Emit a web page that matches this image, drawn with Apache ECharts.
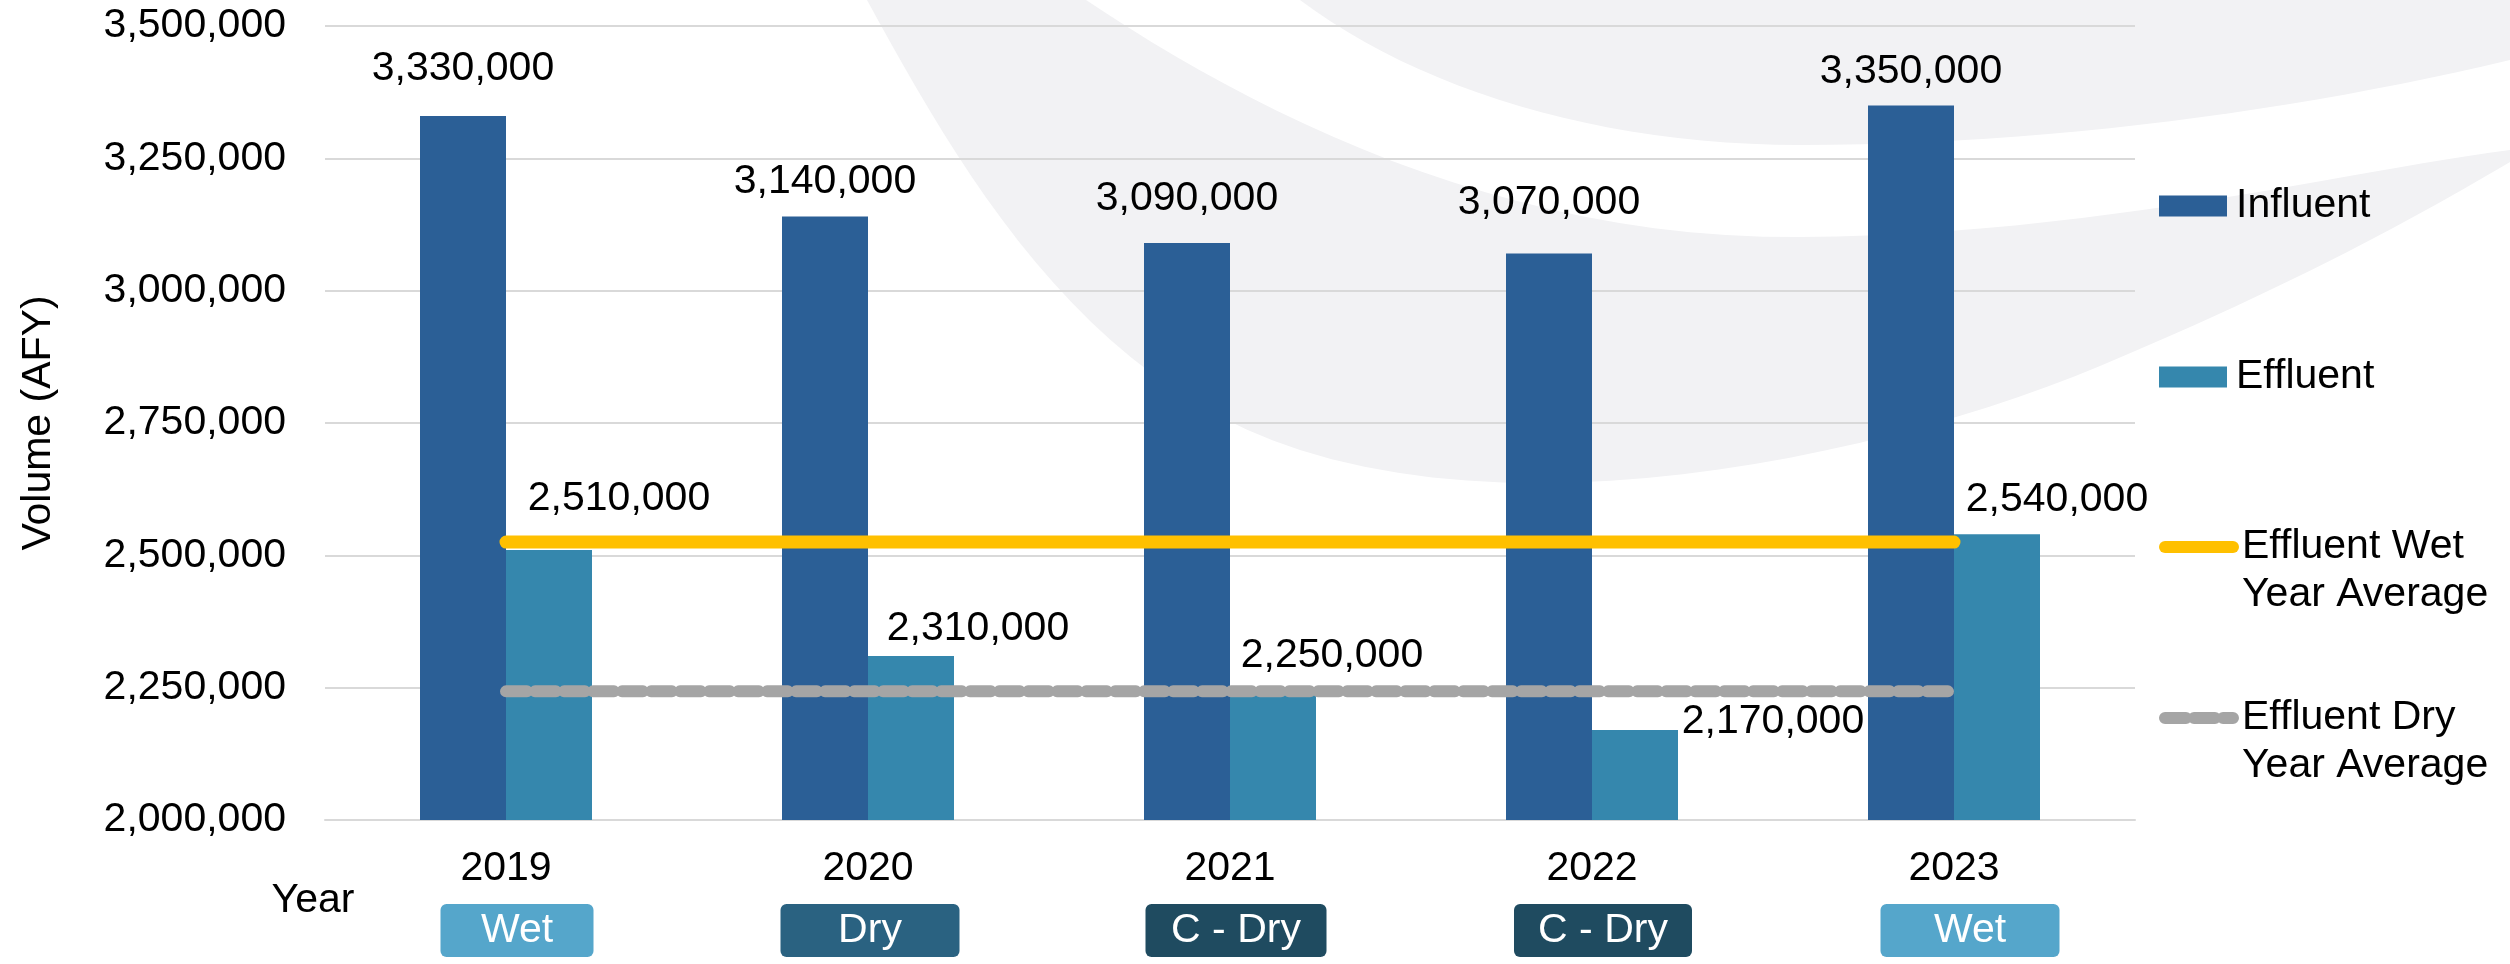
<!DOCTYPE html>
<html>
<head>
<meta charset="utf-8">
<script src="https://cdn.jsdelivr.net/npm/echarts@6/dist/echarts.min.js"></script>
<style>
  html, body { margin: 0; padding: 0; background: #ffffff; }
  #chart { width: 2510px; height: 964px; }
</style>
</head>
<body>
<div id="chart"></div>
<script>
// ---- data ----
const years = ['2019', '2020', '2021', '2022', '2023'];
const yearTypes = ['Wet', 'Dry', 'C - Dry', 'C - Dry', 'Wet'];
const influent = [3330000, 3140000, 3090000, 3070000, 3350000];
const effluent = [2510000, 2310000, 2250000, 2170000, 2540000];
const wetYearAverage = [2525000, 2525000, 2525000, 2525000, 2525000];
const dryYearAverage = [2243000, 2243000, 2243000, 2243000, 2243000];
const yTicks = { min: 2000000, max: 3500000, interval: 250000 };

// ---- styling (not data) ----
const FONT = "'Liberation Sans', Arial, Helvetica, sans-serif";
const typeColors = { 'Wet': '#55A6CB', 'Dry': '#2A6281', 'C - Dry': '#1F4B60' };
const badgeWidths = [153, 179, 181, 178, 179];
const badgeShift = [11, 2, 6, 11, 16];
const inflLabelOffset = [[0, -27], [0, -14], [0, -24], [0, -30], [0, -13]];
const effLabelOffset = [[70, -31], [67, -7], [59, -11], [138, 12], [60, -14]];

const fmt = v => Number(v).toLocaleString('en-US');

// decorative background swoosh outlines (cubic bezier chains, sampled to polygons)
function bezierPoly(start, segs) {
  const pts = [start];
  let p0 = start;
  segs.forEach(s => {
    const [c1, c2, p3] = s;
    for (let k = 1; k <= 24; k++) {
      const t = k / 24, u = 1 - t;
      pts.push([
        u*u*u*p0[0] + 3*u*u*t*c1[0] + 3*u*t*t*c2[0] + t*t*t*p3[0],
        u*u*u*p0[1] + 3*u*u*t*c1[1] + 3*u*t*t*c2[1] + t*t*t*p3[1]
      ]);
    }
    p0 = p3;
  });
  return pts;
}
const swooshA = bezierPoly([867, 0], [
  [[960, 170], [1080, 380], [1300, 450]],
  [[1550, 530], [1900, 450], [2100, 366]],
  [[2300, 282], [2420, 215], [2510, 162]],
  [[2510, 158], [2510, 154], [2510, 150]],
  [[2350, 170], [2100, 235], [1800, 237]],
  [[1500, 240], [1250, 110], [1086, 0]]
]);
const swooshB = bezierPoly([1300, 0], [
  [[1420, 90], [1600, 145], [1800, 145]],
  [[2050, 145], [2300, 110], [2510, 60]],
  [[2510, 40], [2510, 20], [2510, 0]]
]);

const rich = {};
yearTypes.forEach((t, i) => {
  rich['sp' + i] = { width: badgeShift[i] * 2, height: 1, fontSize: 1 };
  rich['b' + i] = {
    width: badgeWidths[i], height: 53, lineHeight: 53, align: 'center',
    backgroundColor: typeColors[t], borderRadius: 6,
    color: '#ffffff', fontSize: 41, fontFamily: FONT
  };
});

const chart = echarts.init(document.getElementById('chart'), null, { renderer: 'canvas' });

const legendBase = {
  orient: 'vertical', left: 2159, padding: 0, itemWidth: 68, itemHeight: 21,
  textStyle: { fontSize: 41, color: '#000', fontFamily: FONT, lineHeight: 48, padding: [0, 0, 0, 4] },
  selectedMode: false
};

const option = {
  backgroundColor: '#ffffff',
  animation: false,
  textStyle: { fontFamily: FONT },
  graphic: [
    { type: 'polygon', z: -10, silent: true, shape: { points: swooshA }, style: { fill: '#F2F2F4' } },
    { type: 'polygon', z: -10, silent: true, shape: { points: swooshB }, style: { fill: '#F2F2F4' } },
    { type: 'text', z: 5, silent: true,
      style: { text: 'Year', x: 313, y: 901, align: 'center', verticalAlign: 'middle',
               fontSize: 41, fontFamily: FONT, fill: '#000' } }
  ],
  grid: { left: 325, right: 375, top: 26, bottom: 144, containLabel: false },
  legend: [
    Object.assign({}, legendBase, { top: 182, data: [{ name: 'Influent', icon: 'rect' }] }),
    Object.assign({}, legendBase, { top: 353, data: [{ name: 'Effluent', icon: 'rect' }] }),
    Object.assign({}, legendBase, { top: 475, data: ['Effluent Wet Year Average'],
      lineStyle: { width: 12, cap: 'round' },
      itemStyle: { opacity: 0 },
      formatter: () => '\nEffluent Wet\nYear Average' }),
    Object.assign({}, legendBase, { top: 646, data: ['Effluent Dry Year Average'],
      lineStyle: { width: 12, cap: 'round', type: [21, 8] },
      itemStyle: { opacity: 0 },
      formatter: () => '\nEffluent Dry\nYear Average' })
  ],
  xAxis: [
    {
      type: 'category', data: years, position: 'bottom',
      axisLine: { show: true, lineStyle: { color: '#D9D9D9', width: 2 } },
      axisTick: { show: false },
      axisLabel: { fontSize: 41, color: '#000', margin: 28, fontFamily: FONT, lineHeight: 41 }
    },
    {
      type: 'category', data: years, position: 'bottom', offset: 0,
      axisLine: { show: false }, axisTick: { show: false },
      axisLabel: {
        margin: 84, rich: rich,
        formatter: (v, i) => '{sp' + i + '| }{b' + i + '|' + yearTypes[i] + '}'
      }
    }
  ],
  yAxis: {
    type: 'value', min: yTicks.min, max: yTicks.max, interval: yTicks.interval,
    name: 'Volume (AFY)', nameLocation: 'middle', nameRotate: 90, nameGap: 266,
    nameTextStyle: { fontSize: 41, color: '#000', fontFamily: FONT, lineHeight: 41 },
    axisLine: { show: false }, axisTick: { show: false },
    axisLabel: { fontSize: 41, color: '#000', margin: 39, fontFamily: FONT, formatter: fmt },
    splitLine: { lineStyle: { color: '#D9D9D9', width: 2 } }
  },
  series: [
    {
      name: 'Influent', type: 'bar', barWidth: 86, barGap: '0%',
      itemStyle: { color: '#2B5F96' },
      data: influent.map((v, i) => ({ value: v, label: { offset: inflLabelOffset[i] } })),
      label: { show: true, position: 'top', distance: 0, fontSize: 41, lineHeight: 41,
               color: '#000', fontFamily: FONT, formatter: p => fmt(p.value) }
    },
    {
      name: 'Effluent', type: 'bar', barWidth: 86, barGap: '0%',
      itemStyle: { color: '#3587AD' },
      data: effluent.map((v, i) => ({ value: v, label: { offset: effLabelOffset[i] } })),
      label: { show: true, position: 'top', distance: 0, fontSize: 41, lineHeight: 41,
               color: '#000', fontFamily: FONT, formatter: p => fmt(p.value) }
    },
    {
      name: 'Effluent Wet Year Average', type: 'line', data: wetYearAverage,
      symbol: 'none', z: 5,
      lineStyle: { color: '#FFC000', width: 13, cap: 'round' },
      itemStyle: { color: '#FFC000' }
    },
    {
      name: 'Effluent Dry Year Average', type: 'line', data: dryYearAverage,
      symbol: 'none', z: 5,
      lineStyle: { color: '#A5A5A5', width: 12, cap: 'round', type: [21, 8] },
      itemStyle: { color: '#A5A5A5' }
    }
  ]
};
chart.setOption(option);
</script>
</body>
</html>
